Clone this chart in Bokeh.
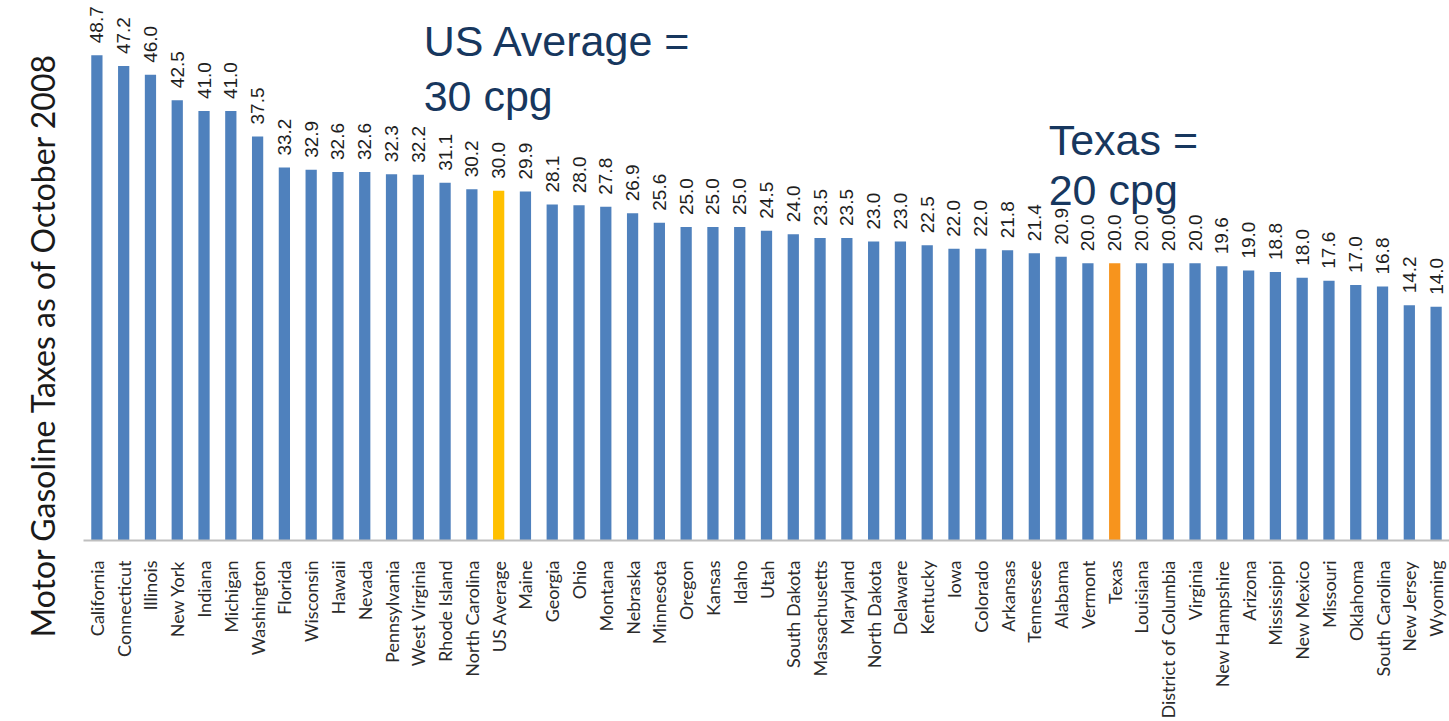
import math
from bokeh.plotting import figure
from bokeh.models import ColumnDataSource, FactorRange, Range1d, Label, Title
from bokeh.core.properties import value
from bokeh.embed import file_html
from bokeh.resources import INLINE

states = ["California", "Connecticut", "Illinois", "New York", "Indiana", "Michigan",
          "Washington", "Florida", "Wisconsin", "Hawaii", "Nevada", "Pennsylvania",
          "West Virginia", "Rhode Island", "North Carolina", "US Average", "Maine",
          "Georgia", "Ohio", "Montana", "Nebraska", "Minnesota", "Oregon", "Kansas",
          "Idaho", "Utah", "South Dakota", "Massachusetts", "Maryland", "North Dakota",
          "Delaware", "Kentucky", "Iowa", "Colorado", "Arkansas", "Tennessee", "Alabama",
          "Vermont", "Texas", "Louisiana", "District of Columbia", "Virginia",
          "New Hampshire", "Arizona", "Mississippi", "New Mexico", "Missouri",
          "Oklahoma", "South Carolina", "New Jersey", "Wyoming"]
taxes = [48.7, 47.2, 46.0, 42.5, 41.0, 41.0, 37.5, 33.2, 32.9, 32.6, 32.6, 32.3,
         32.2, 31.1, 30.2, 30.0, 29.9, 28.1, 28.0, 27.8, 26.9, 25.6, 25.0, 25.0,
         25.0, 24.5, 24.0, 23.5, 23.5, 23.0, 23.0, 22.5, 22.0, 22.0, 21.8, 21.4,
         20.9, 20.0, 20.0, 20.0, 20.0, 20.0, 19.6, 19.0, 18.8, 18.0, 17.6, 17.0,
         16.8, 14.2, 14.0]
highlight = {"US Average": "#FFC000", "Texas": "#F7941D"}
base_color = "#4F81BD"
colors = [highlight.get(s, base_color) for s in states]
labels = ["%.1f" % t for t in taxes]

y_title = "Motor Gasoline Taxes as of October 2008"
avg_note = ["US Average =", "30 cpg"]
tx_note = ["Texas =", "20 cpg"]

Y_MIN, Y_MAX = -18.23, 56.25

src = ColumnDataSource(dict(state=states, tax=taxes, color=colors, label=labels))

p = figure(x_range=FactorRange(*states), y_range=Range1d(Y_MIN, Y_MAX),
           width=1449, height=721, output_backend="svg", toolbar_location=None,
           min_border_left=83, min_border_right=0, min_border_top=0,
           min_border_bottom=178)
p.outline_line_color = None
p.xgrid.grid_line_color = None
p.ygrid.grid_line_color = None
p.background_fill_color = "white"

p.vbar(x="state", top="tax", bottom=Y_MIN, width=0.42, color="color",
       line_color=None, source=src)

p.text(x="state", y="tax", text="label", source=src, angle=math.pi / 2,
       text_align="left", text_baseline="middle", y_offset=-12,
       text_font=value("Liberation Sans"), text_font_size="19px",
       text_color="#1e1e1e")

# axes
xa = p.xaxis[0]
xa.axis_line_color = "#BFBFBF"
xa.axis_line_width = 2
xa.major_tick_line_color = None
xa.minor_tick_line_color = None
xa.major_label_orientation = math.pi / 2
xa.major_label_text_font = "Lato"
xa.major_label_text_font_size = "18px"
xa.major_label_text_color = "#2b2b2b"
xa.major_label_standoff = 14

p.yaxis.visible = False

p.add_layout(Title(text=y_title, align="left", vertical_align="top",
                   offset=-97, standoff=40,
                   text_font="Lato", text_font_size="32px",
                   text_font_style="normal", text_color="#1a1a1a"), "left")

note_style = dict(text_font="Liberation Sans", text_font_size="43px",
                  text_color="#17375E", text_align="left",
                  text_baseline="alphabetic")
avg_x = states.index("US Average") + 0.5
tx_x = states.index("Texas") + 0.5
p.add_layout(Label(x=avg_x, x_offset=-75, y=50.64, text=avg_note[0], **note_style))
p.add_layout(Label(x=avg_x, x_offset=-75, y=43.10, text=avg_note[1], **note_style))
p.add_layout(Label(x=tx_x, x_offset=-66, y=37.06, text=tx_note[0], **note_style))
p.add_layout(Label(x=tx_x, x_offset=-66, y=30.07, text=tx_note[1], **note_style))

open("out.html", "w").write(file_html(p, INLINE))
